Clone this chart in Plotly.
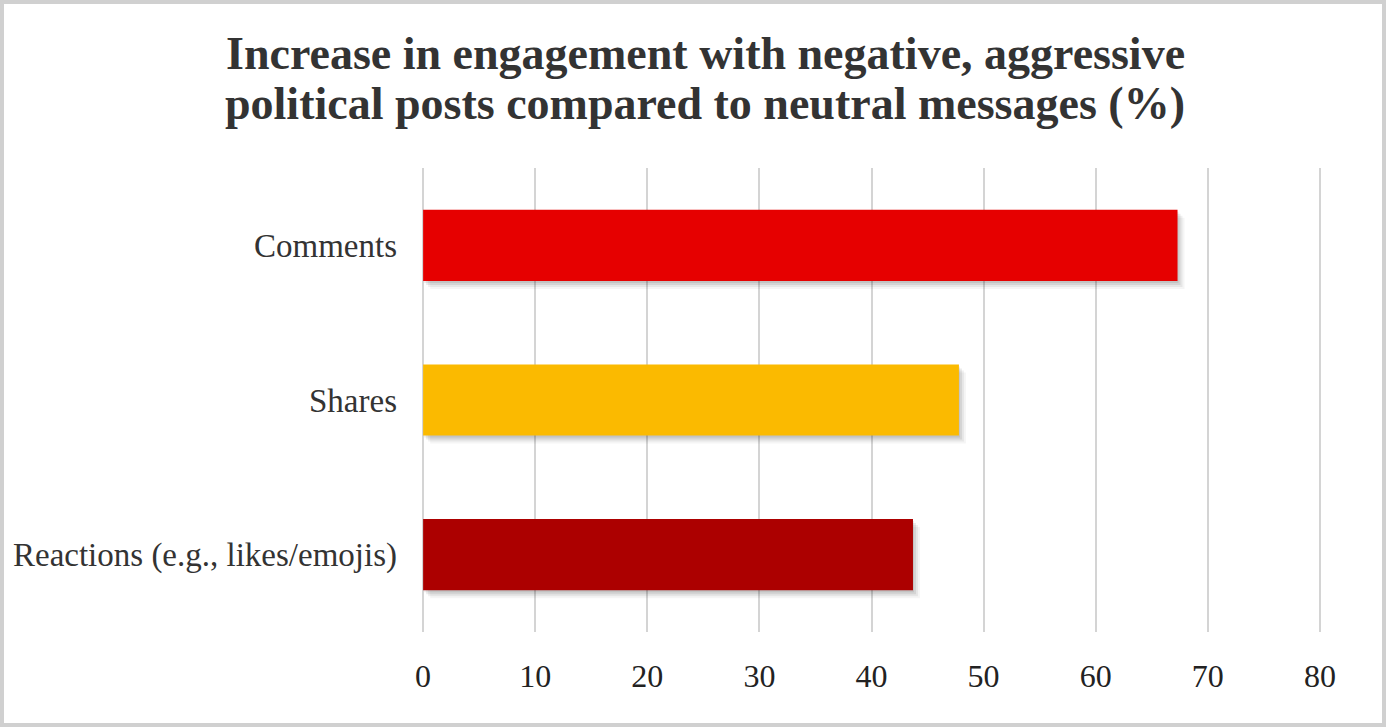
import plotly.graph_objects as go

categories = ["Reactions (e.g., likes/emojis)", "Shares", "Comments"]
values = [43.7, 47.8, 67.3]
colors = ["#AC0000", "#FBBA00", "#E60000"]
x_ticks = [0, 10, 20, 30, 40, 50, 60, 70, 80]
title_lines = ["Increase in engagement with negative, aggressive",
               "political posts compared to neutral messages (%)"]

W, H = 1386, 727
L, R, T, B = 422, 65, 168, 95
pw, ph = W - L - R, H - T - B
BAR_W = 0.46
px_x = 80.2 / pw          # data units per pixel (x)
px_y = 3.0 / ph           # category units per pixel (y)

fig = go.Figure()
# soft drop shadow layers
for dx, dy, a in [(7, 8, 0.04), (5, 6, 0.06), (3, 4, 0.08), (1, 2, 0.08)]:
    fig.add_trace(go.Bar(
        x=values, y=categories, orientation="h",
        base=dx * px_x, width=BAR_W, offset=-BAR_W / 2 - dy * px_y,
        marker=dict(color="rgba(0,0,0,%s)" % a, line=dict(width=0)),
        hoverinfo="skip",
    ))
fig.add_trace(go.Bar(
    x=values, y=categories, orientation="h",
    marker=dict(color=colors, line=dict(width=0)),
    width=BAR_W, hoverinfo="x+y",
))

annotations = []
for txt, yb in zip(title_lines, [70, 120]):
    annotations.append(dict(
        text="<b>%s</b>" % txt, xref="paper", yref="paper",
        x=(705 - L) / pw, y=(H - B - yb) / ph,
        xanchor="center", yanchor="bottom", yshift=-11, showarrow=False,
        font=dict(family="Liberation Serif", size=46, color="#333333"),
    ))

fig.update_layout(
    width=W, height=H,
    margin=dict(l=L, r=R, t=T, b=B, pad=0),
    paper_bgcolor="white", plot_bgcolor="white",
    showlegend=False, barmode="overlay",
    annotations=annotations,
    xaxis=dict(
        range=[-0.1, 80.1], tickvals=x_ticks, showgrid=True,
        gridcolor="#D4D4D4", gridwidth=2, zeroline=False,
        showline=False, ticks="", ticklabelstandoff=22,
        tickfont=dict(family="Liberation Serif", size=32, color="#222222"),
        fixedrange=True,
    ),
    yaxis=dict(
        showgrid=False, zeroline=False, showline=False, ticks="",
        ticklabelstandoff=24,
        tickfont=dict(family="Liberation Serif", size=33, color="#333333"),
        categoryorder="array", categoryarray=categories,
        fixedrange=True,
    ),
    shapes=[dict(
        type="rect", xref="paper", yref="paper",
        x0=-(L - 2) / pw, x1=1 + (R - 2) / pw,
        y0=-(B - 2) / ph, y1=1 + (T - 2) / ph,
        line=dict(color="#D0D0D0", width=4), fillcolor="rgba(0,0,0,0)",
        layer="below",
    )],
)

fig.write_html("out.html", config={"displayModeBar": False},
               post_script="document.body.style.margin='0';document.body.style.overflow='hidden';")
